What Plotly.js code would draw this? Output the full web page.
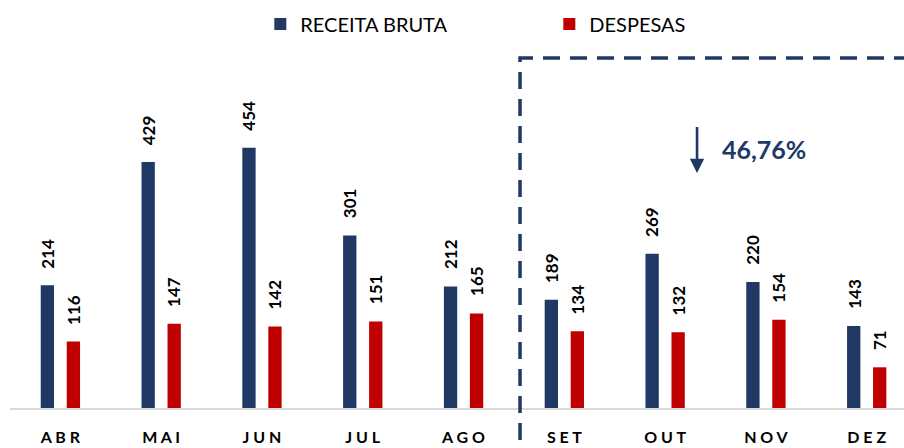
<!DOCTYPE html>
<html>
<head>
<meta charset="utf-8">
<script src="https://cdn.plot.ly/plotly-3.0.1.min.js"></script>
<style>html,body{margin:0;padding:0;background:#fff;}#chart{width:904px;height:448px;}</style>
</head>
<body>
<div id="chart"></div>
<script>
const months = ["ABR","MAI","JUN","JUL","AGO","SET","OUT","NOV","DEZ"];
const receitaBruta = [214, 429, 454, 301, 212, 189, 269, 220, 143];
const despesas = [116, 147, 142, 151, 165, 134, 132, 154, 71];
const seriesNames = ["RECEITA BRUTA", "DESPESAS"];
const variationText = "46,76%";

const NAVY = "#203864", RED = "#C00000";
const FONT = "Lato, 'Open Sans', sans-serif";
const idx = months.map((m, i) => i);
const tickText = months.map(m => m.split("").join(" "));

const traces = [
  {type: "bar", name: seriesNames[0], x: idx, y: receitaBruta, marker: {color: NAVY},
   offset: -0.195, width: 0.132, hoverinfo: "y"},
  {type: "bar", name: seriesNames[1], x: idx, y: despesas, marker: {color: RED},
   offset: 0.063, width: 0.132, hoverinfo: "y"}
];

const annotations = [];
const lblFont = {family: FONT, size: 17, color: "#000", weight: 700};
receitaBruta.forEach((v, i) => annotations.push({x: i - 0.129, y: v, xref: "x", yref: "y", text: String(v),
  textangle: -90, showarrow: false, yanchor: "bottom", yshift: 15, font: lblFont}));
despesas.forEach((v, i) => annotations.push({x: i + 0.129, y: v, xref: "x", yref: "y", text: String(v),
  textangle: -90, showarrow: false, yanchor: "bottom", yshift: 15, font: lblFont}));
annotations.push({x: 0.7685, y: 0.6386, xref: "paper", yref: "paper", text: " ", showarrow: true,
  ax: 0, ay: -56, arrowhead: 2, arrowsize: 1.1, arrowwidth: 2.6, arrowcolor: NAVY});
annotations.push({x: 0.794, y: 0.703, xref: "paper", yref: "paper", text: variationText, showarrow: false,
  xanchor: "left", yanchor: "middle", font: {family: FONT, size: 25, color: NAVY, weight: 700}});

const layout = {
  width: 904, height: 448,
  margin: {l: 10, r: 0, t: 40, b: 40},
  paper_bgcolor: "#fff", plot_bgcolor: "#fff",
  showlegend: true,
  legend: {orientation: "h", x: 0.280, xanchor: "left", y: 1.0435, yanchor: "middle",
    font: {family: FONT, size: 20, color: "#000"}, entrywidth: 244, entrywidthmode: "pixels",
    bgcolor: "rgba(0,0,0,0)"},
  xaxis: {type: "linear", range: [-0.5, 8.37], tickmode: "array", tickvals: idx, ticktext: tickText,
    showgrid: false, zeroline: false, showline: true, linecolor: "#d9d9d9", linewidth: 2,
    ticks: "", ticklabelstandoff: 14, tickfont: {family: FONT, size: 16, color: "#000", weight: 700}},
  yaxis: {range: [0, 642], showgrid: false, zeroline: false, showline: false, showticklabels: false, ticks: ""},
  annotations: annotations,
  shapes: [{type: "path", xref: "paper", yref: "paper",
    path: "M0.5705,-0.087 L0.5705,0.9511 L1.0,0.9511",
    line: {color: NAVY, width: 3.5, dash: "17px,10px"}}]
};

Plotly.newPlot("chart", traces, layout, {displayModeBar: false, staticPlot: true});
</script>
</body>
</html>
